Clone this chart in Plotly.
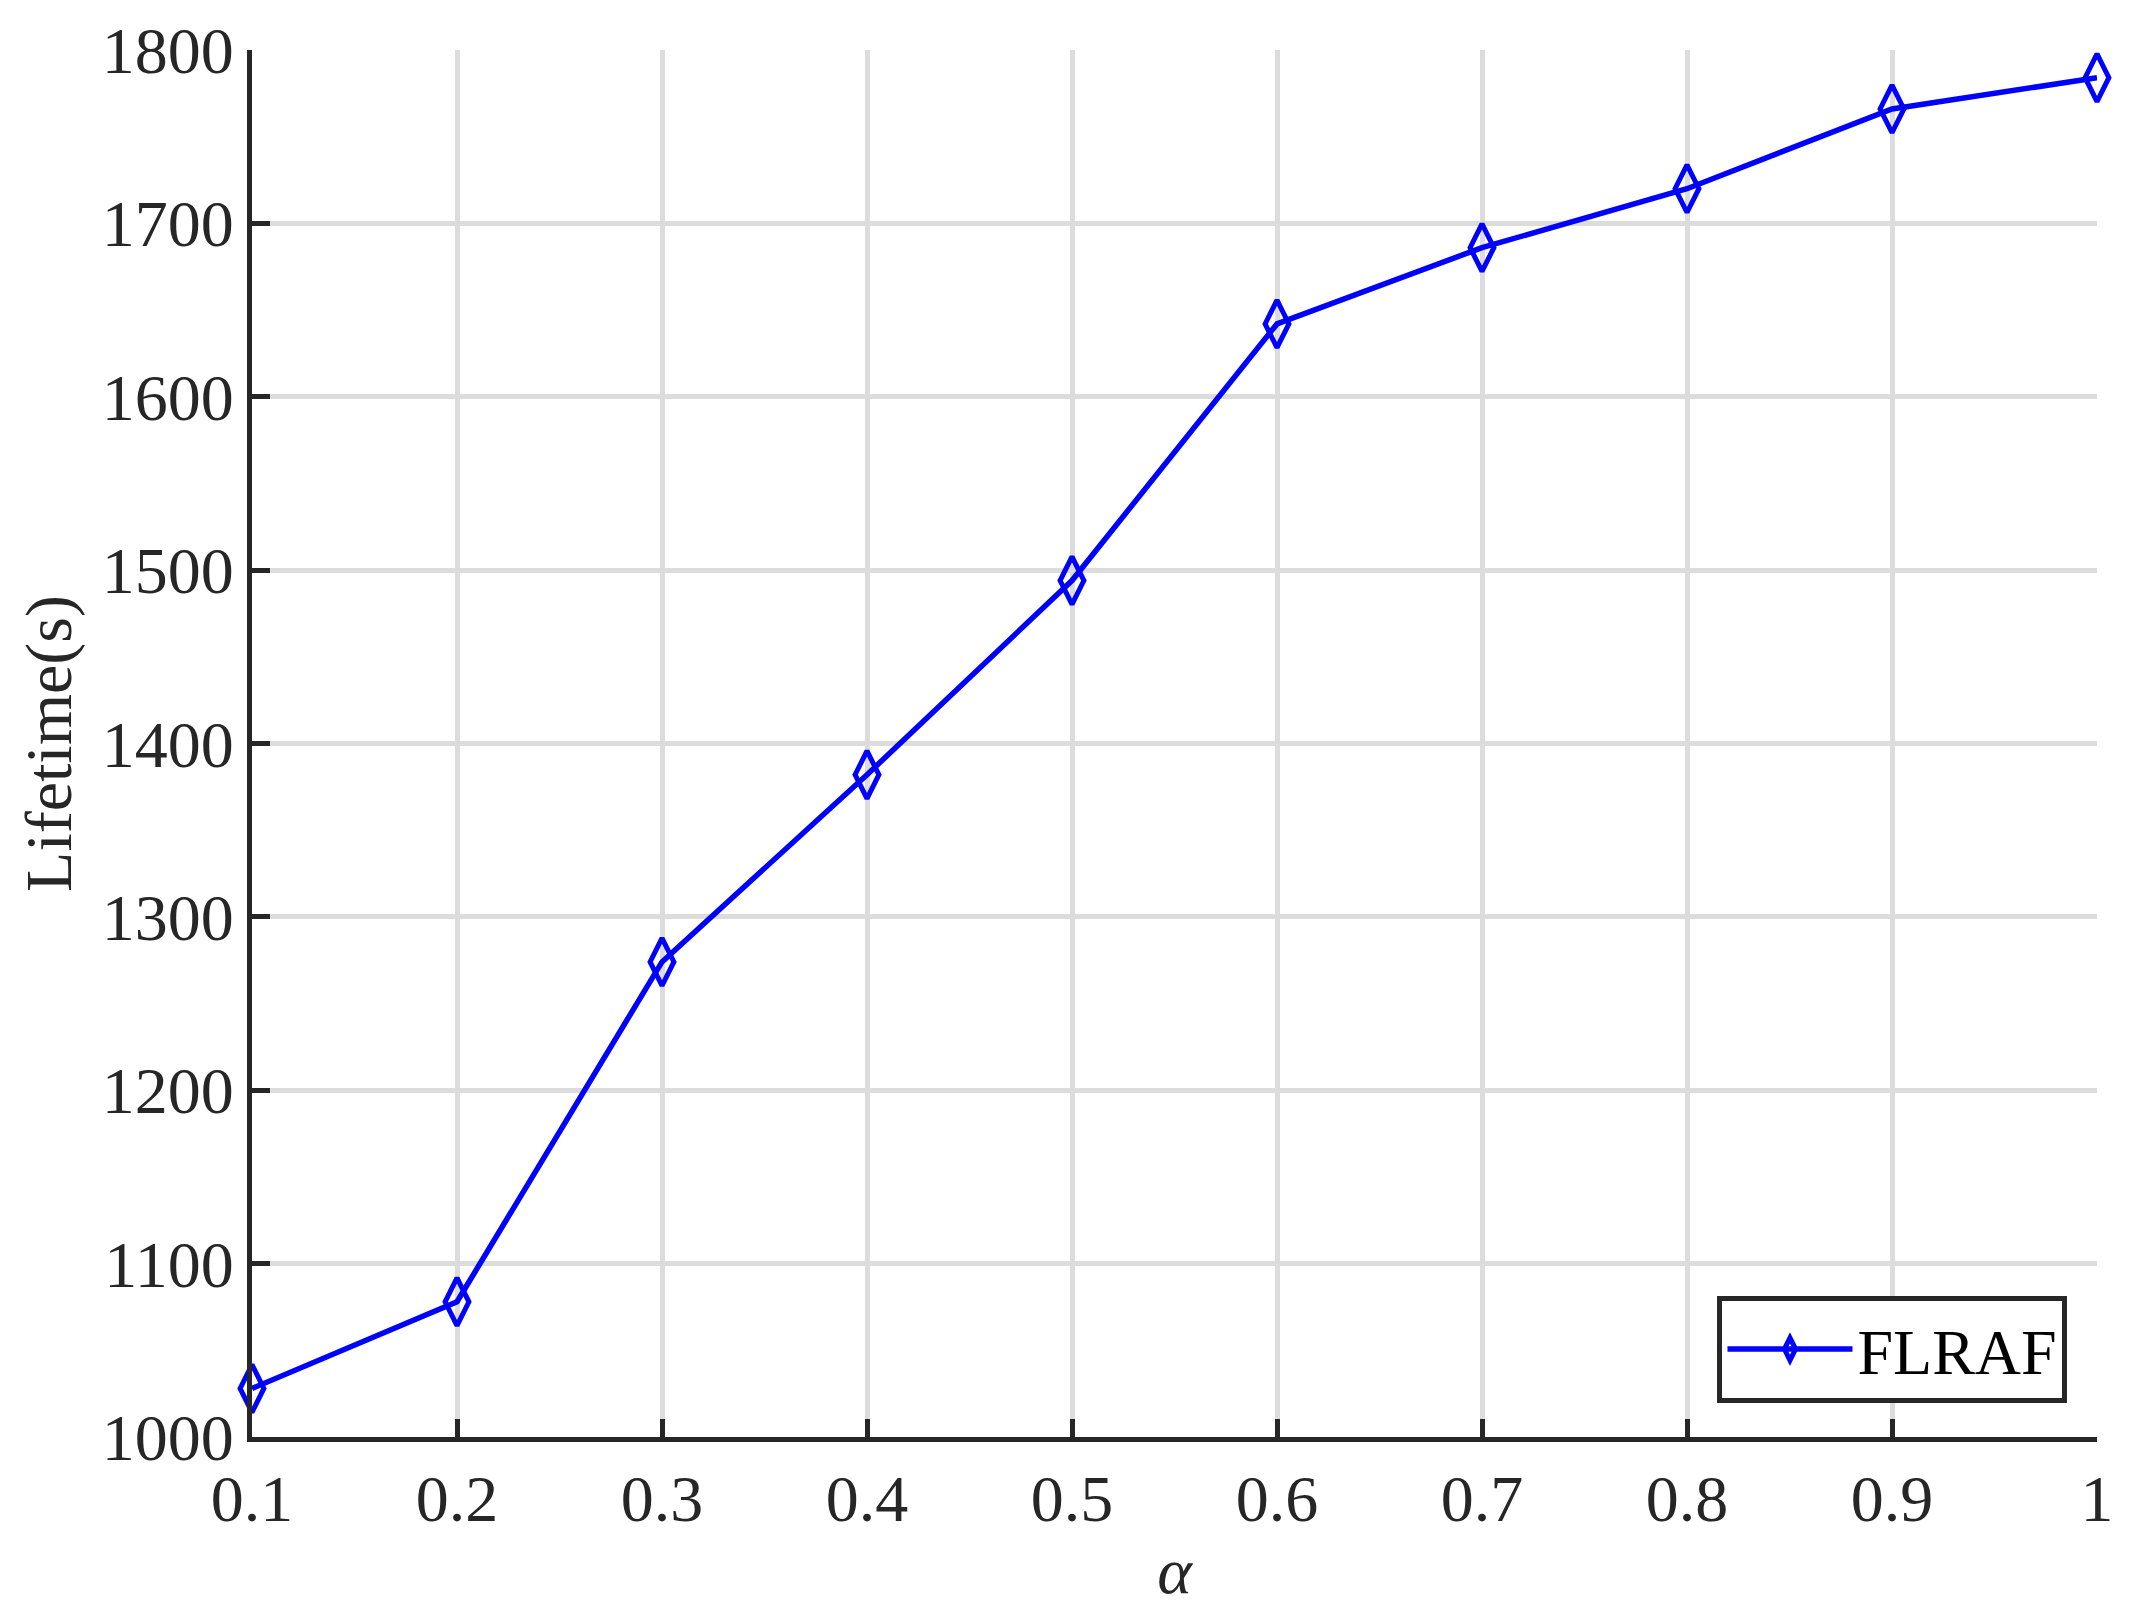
"""
Lifetime vs alpha (FLRAF) - recriação em Plotly.
"""

import plotly.graph_objects as go

# Dados
alpha = [0.1, 0.2, 0.3, 0.4, 0.5, 0.6, 0.7, 0.8, 0.9, 1.0]
lifetime_flraf = [1028, 1078, 1274, 1382, 1494, 1642, 1686, 1720, 1766, 1784]

x_tick_vals = [0.1, 0.2, 0.3, 0.4, 0.5, 0.6, 0.7, 0.8, 0.9, 1.0]
x_tick_text = ['0.1', '0.2', '0.3', '0.4', '0.5', '0.6', '0.7', '0.8', '0.9', '1']
y_tick_vals = [1000, 1100, 1200, 1300, 1400, 1500, 1600, 1700, 1800]

FONTE = 'Liberation Serif'
COR_EIXO = '#262626'
COR_GRADE = '#dcdcdc'

fig = go.Figure()

fig.add_trace(go.Scatter(
    x=alpha,
    y=lifetime_flraf,
    mode='lines+markers',
    name='FLRAF',
    line=dict(color='#0000ff', width=5.5),
    marker=dict(
        symbol='diamond-tall-open',
        size=34,
        color='#0000ff',
        line=dict(color='#0000ff', width=5)
    ),
    cliponaxis=False
))

eixo_comum = dict(
    showline=True,
    linecolor=COR_EIXO,
    linewidth=5,
    mirror=False,
    ticks='inside',
    ticklen=18,
    tickwidth=5,
    tickcolor=COR_EIXO,
    showgrid=True,
    gridcolor=COR_GRADE,
    gridwidth=5,
    zeroline=False,
    automargin=False,
    tickfont=dict(family=FONTE, size=66, color=COR_EIXO),
)

fig.update_xaxes(
    range=[0.1, 1.0],
    tickvals=x_tick_vals,
    ticktext=x_tick_text,
    ticklabelstandoff=0,
    title=dict(text='<i>α</i>', font=dict(family=FONTE, size=66, color=COR_EIXO), standoff=14),
    **eixo_comum
)

fig.update_yaxes(
    range=[1000, 1800],
    tickvals=y_tick_vals,
    ticklabelstandoff=0,
    title=dict(text='Lifetime(s)', font=dict(family=FONTE, size=66, color=COR_EIXO), standoff=10),
    **eixo_comum
)

# a página tem 8px de margem no body, por isso o deslocamento
fig.update_layout(
    width=2130,
    height=1615,
    margin=dict(l=244, r=41, t=42, b=186),
    paper_bgcolor='white',
    plot_bgcolor='white',
    showlegend=True,
    legend=dict(
        x=0.984,
        y=0.0245,
        xanchor='right',
        yanchor='bottom',
        bgcolor='white',
        bordercolor=COR_EIXO,
        borderwidth=5,
        itemwidth=125,
        font=dict(family=FONTE, size=64, color='black'),
    ),
)

fig.write_html("out.html")
